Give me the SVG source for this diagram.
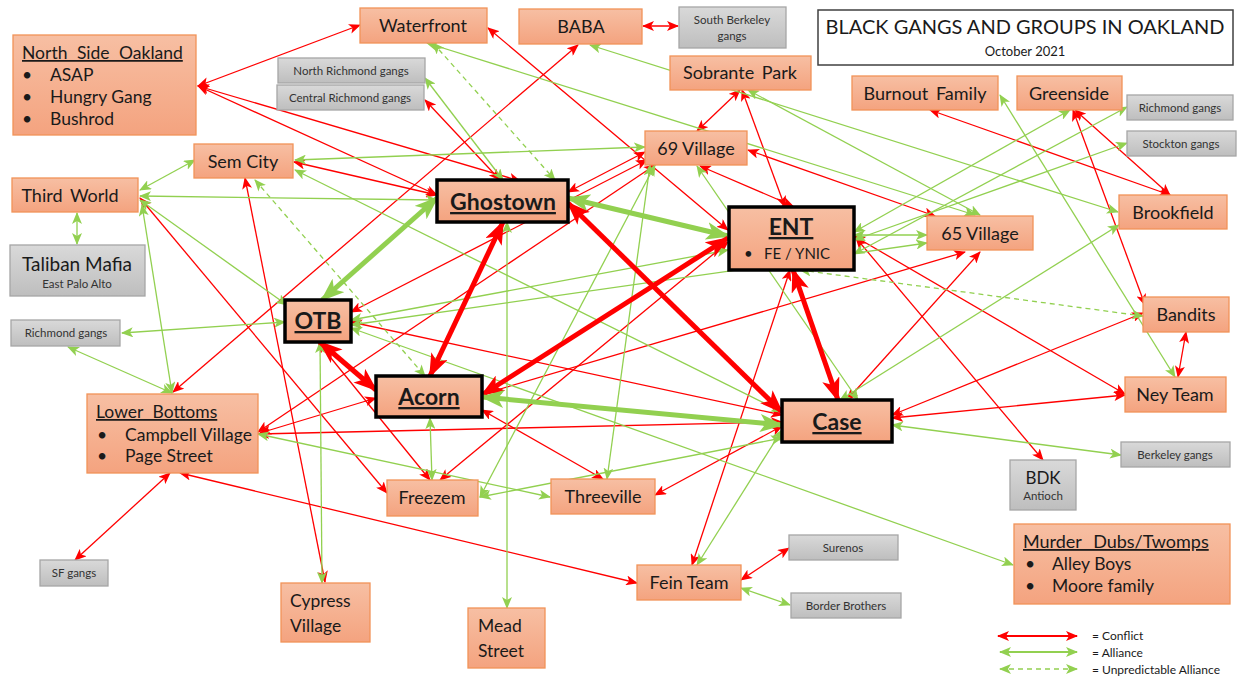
<svg xmlns="http://www.w3.org/2000/svg" width="1239" height="679" viewBox="0 0 1239 679">
<defs>
<linearGradient id="og" x1="0" y1="0" x2="0" y2="1"><stop offset="0" stop-color="#F7BFA3"/><stop offset="1" stop-color="#F4A37F"/></linearGradient>
<linearGradient id="gg" x1="0" y1="0" x2="0" y2="1"><stop offset="0" stop-color="#D9D9D9"/><stop offset="1" stop-color="#BEBEBE"/></linearGradient>
<marker id="ar" markerUnits="userSpaceOnUse" viewBox="0 0 12 10" refX="11" refY="5" markerWidth="12" markerHeight="10" orient="auto-start-reverse"><path d="M0,0 L12,5 L0,10 L3,5 z" fill="#FF0000"/></marker>
<marker id="ag" markerUnits="userSpaceOnUse" viewBox="0 0 12 10" refX="11" refY="5" markerWidth="12" markerHeight="10" orient="auto-start-reverse"><path d="M0,0 L12,5 L0,10 L3,5 z" fill="#92D050"/></marker>
<marker id="aR" markerUnits="userSpaceOnUse" viewBox="0 0 24 18" refX="22" refY="9" markerWidth="24" markerHeight="18" orient="auto-start-reverse"><path d="M0,0 L24,9 L0,18 L6,9 z" fill="#FF0000"/></marker>
<marker id="aG" markerUnits="userSpaceOnUse" viewBox="0 0 24 18" refX="22" refY="9" markerWidth="24" markerHeight="18" orient="auto-start-reverse"><path d="M0,0 L24,9 L0,18 L6,9 z" fill="#92D050"/></marker>
</defs>
<style>
.o{fill:url(#og);stroke:#F19358;stroke-width:1.3}
.k{fill:url(#og);stroke:#000;stroke-width:3.5}
.g{fill:url(#gg);stroke:#A6A6A6;stroke-width:1.3}
text{font-family:Lato,"Liberation Sans",sans-serif;fill:#1a1a1a}
.t{font-size:18px;text-anchor:middle}
.tl{font-size:17.5px}
.s{font-size:11.5px;text-anchor:middle;fill:#333}
.b{font-size:23px;font-weight:bold;text-anchor:middle;text-decoration:underline}
.u{text-decoration:underline;word-spacing:5px}
.r{stroke:#FF0000;stroke-width:1.3;fill:none;marker-start:url(#ar);marker-end:url(#ar)}
.gr{stroke:#92D050;stroke-width:1.3;fill:none;marker-start:url(#ag);marker-end:url(#ag)}
.gd{stroke:#92D050;stroke-width:1.3;fill:none;stroke-dasharray:5 4;marker-start:url(#ag);marker-end:url(#ag)}
.R{stroke:#FF0000;stroke-width:5;fill:none;marker-start:url(#aR);marker-end:url(#aR)}
.G{stroke:#92D050;stroke-width:5;fill:none;marker-start:url(#aG);marker-end:url(#aG)}
</style>
<rect width="1239" height="679" fill="#fff"/>
<g id="connectors">
<line class="r" x1="198" y1="86" x2="360" y2="25"/>
<line class="r" x1="198" y1="86" x2="437" y2="195"/>
<line class="r" x1="198" y1="86" x2="520" y2="181"/>
<line class="r" x1="488" y1="28" x2="728" y2="230"/>
<line class="r" x1="643" y1="26" x2="678" y2="26"/>
<line class="r" x1="578" y1="45" x2="173" y2="392"/>
<line class="r" x1="425" y1="100" x2="500" y2="180"/>
<line class="r" x1="294" y1="162" x2="437" y2="195"/>
<line class="r" x1="245" y1="178" x2="325" y2="582"/>
<line class="r" x1="140" y1="198" x2="387" y2="493"/>
<line class="r" x1="258" y1="432" x2="655" y2="165"/>
<line class="r" x1="258" y1="434" x2="782" y2="422"/>
<line class="r" x1="260" y1="433" x2="376" y2="398"/>
<line class="r" x1="170" y1="473" x2="75" y2="560"/>
<line class="r" x1="180" y1="473" x2="637" y2="583"/>
<line class="r" x1="351" y1="312" x2="647" y2="160"/>
<line class="r" x1="351" y1="322" x2="782" y2="415"/>
<line class="r" x1="740" y1="90" x2="697" y2="131"/>
<line class="r" x1="742" y1="90" x2="785" y2="207"/>
<line class="r" x1="700" y1="166" x2="793" y2="206"/>
<line class="r" x1="748" y1="150" x2="935" y2="216"/>
<line class="r" x1="930" y1="110" x2="1170" y2="195"/>
<line class="r" x1="1075" y1="110" x2="1170" y2="195"/>
<line class="r" x1="1073" y1="110" x2="1145" y2="305"/>
<line class="r" x1="1186" y1="332" x2="1178" y2="377"/>
<line class="r" x1="854" y1="236" x2="1125" y2="394"/>
<line class="r" x1="856" y1="238" x2="1043" y2="460"/>
<line class="r" x1="892" y1="415" x2="1143" y2="313"/>
<line class="r" x1="892" y1="418" x2="1125" y2="395"/>
<line class="r" x1="318" y1="342" x2="430" y2="480"/>
<line class="r" x1="440" y1="480" x2="728" y2="242"/>
<line class="r" x1="482" y1="410" x2="603" y2="479"/>
<line class="r" x1="655" y1="495" x2="782" y2="426"/>
<line class="r" x1="490" y1="392" x2="965" y2="252"/>
<line class="r" x1="847" y1="400" x2="980" y2="252"/>
<line class="r" x1="741" y1="580" x2="789" y2="548"/>
<line class="r" x1="692" y1="565" x2="790" y2="270"/>
<line class="r" x1="568" y1="192" x2="645" y2="152"/>
<line class="gr" x1="425" y1="78" x2="503" y2="180"/>
<line class="gr" x1="140" y1="190" x2="195" y2="160"/>
<line class="gr" x1="140" y1="196" x2="437" y2="200"/>
<line class="gr" x1="77" y1="213" x2="77" y2="244"/>
<line class="gr" x1="142" y1="205" x2="172" y2="393"/>
<line class="gr" x1="140" y1="200" x2="287" y2="305"/>
<line class="gr" x1="122" y1="333" x2="285" y2="322"/>
<line class="gr" x1="68" y1="347" x2="172" y2="393"/>
<line class="gr" x1="258" y1="434" x2="550" y2="497"/>
<line class="gr" x1="320" y1="342" x2="322" y2="583"/>
<line class="gr" x1="295" y1="160" x2="645" y2="147"/>
<line class="gr" x1="295" y1="170" x2="782" y2="412"/>
<line class="gr" x1="430" y1="418" x2="432" y2="480"/>
<line class="gr" x1="507" y1="222" x2="507" y2="608"/>
<line class="gr" x1="741" y1="588" x2="790" y2="605"/>
<line class="gr" x1="351" y1="320" x2="728" y2="250"/>
<line class="gr" x1="351" y1="325" x2="927" y2="243"/>
<line class="gr" x1="351" y1="328" x2="1013" y2="565"/>
<line class="gr" x1="427" y1="43" x2="975" y2="215"/>
<line class="gr" x1="590" y1="45" x2="1118" y2="212"/>
<line class="gr" x1="854" y1="232" x2="1070" y2="110"/>
<line class="gr" x1="854" y1="254" x2="1127" y2="107"/>
<line class="gr" x1="854" y1="240" x2="1127" y2="143"/>
<line class="gr" x1="854" y1="235" x2="927" y2="235"/>
<line class="gr" x1="1000" y1="95" x2="1175" y2="377"/>
<line class="gr" x1="748" y1="90" x2="980" y2="215"/>
<line class="gr" x1="480" y1="497" x2="782" y2="438"/>
<line class="gr" x1="480" y1="497" x2="655" y2="165"/>
<line class="gr" x1="607" y1="479" x2="650" y2="165"/>
<line class="gr" x1="892" y1="425" x2="1121" y2="455"/>
<line class="gr" x1="840" y1="400" x2="1119" y2="225"/>
<line class="gr" x1="697" y1="565" x2="782" y2="430"/>
<line class="gr" x1="697" y1="166" x2="858" y2="400"/>
<line class="gd" x1="433" y1="43" x2="555" y2="180"/>
<line class="gd" x1="255" y1="180" x2="425" y2="376"/>
<line class="gd" x1="800" y1="270" x2="1143" y2="316"/>
<line class="G" x1="437" y1="198" x2="322" y2="300"/>
<line class="G" x1="568" y1="198" x2="728" y2="236"/>
<line class="R" x1="503" y1="222" x2="430" y2="376"/>
<line class="R" x1="568" y1="203" x2="782" y2="412"/>
<line class="R" x1="320" y1="342" x2="376" y2="390"/>
<line class="R" x1="482" y1="395" x2="728" y2="238"/>
<line class="G" x1="482" y1="397" x2="782" y2="425"/>
<line class="R" x1="793" y1="270" x2="838" y2="400"/>
</g>
<g id="title"><rect x="818" y="10" width="415" height="55" fill="#fff" stroke="#404040" stroke-width="1.5"/><text x="1025" y="34" style="font-size:20px;text-anchor:middle">BLACK GANGS AND GROUPS IN OAKLAND</text><text x="1025" y="56" style="font-size:13px;text-anchor:middle">October 2021</text></g>
<g id="nso"><rect class="o" x="13" y="35" width="183" height="100"/><text class="tl u" x="22" y="59">North Side Oakland</text><text class="tl" x="22" y="81">•</text><text class="tl" x="50" y="81">ASAP</text><text class="tl" x="22" y="103">•</text><text class="tl" x="50" y="103">Hungry Gang</text><text class="tl" x="22" y="125">•</text><text class="tl" x="50" y="125">Bushrod</text></g>
<g id="waterfront"><rect class="o" x="360" y="8" width="127" height="35"/><text class="t" x="423" y="32">Waterfront</text></g>
<g id="baba"><rect class="o" x="519" y="9" width="123" height="35"/><text class="t" x="581" y="33">BABA</text></g>
<g id="southberkeley"><rect class="g" x="679" y="7" width="107" height="41"/><text class="s" x="732" y="24">South Berkeley</text><text class="s" x="732" y="40">gangs</text></g>
<g id="northrichmond"><rect class="g" x="278" y="58" width="147" height="25"/><text class="s" x="351" y="75">North Richmond gangs</text></g>
<g id="centralrichmond"><rect class="g" x="277" y="85" width="147" height="25"/><text class="s" x="350" y="102">Central Richmond gangs</text></g>
<g id="sobrante"><rect class="o" x="670" y="56" width="141" height="34"/><text class="t" x="740" y="79" style="word-spacing:3px">Sobrante Park</text></g>
<g id="burnout"><rect class="o" x="852" y="76" width="146" height="34"/><text class="t" x="925" y="100" style="word-spacing:3px">Burnout Family</text></g>
<g id="greenside"><rect class="o" x="1017" y="76" width="105" height="34"/><text class="t" x="1069" y="100">Greenside</text></g>
<g id="richmondR"><rect class="g" x="1127" y="95" width="106" height="25"/><text class="s" x="1180" y="112">Richmond gangs</text></g>
<g id="stockton"><rect class="g" x="1127" y="131" width="109" height="25"/><text class="s" x="1181" y="148">Stockton gangs</text></g>
<g id="v69"><rect class="o" x="645" y="131" width="102" height="34"/><text class="t" x="696" y="155">69 Village</text></g>
<g id="semcity"><rect class="o" x="194" y="144" width="99" height="34"/><text class="t" x="243" y="168">Sem City</text></g>
<g id="thirdworld"><rect class="o" x="12" y="178" width="126" height="34"/><text class="t" x="70" y="202" style="word-spacing:3px">Third World</text></g>
<g id="ghostown"><rect class="k" x="437" y="180" width="131" height="42"/><text class="b" x="503" y="210">Ghostown</text></g>
<g id="ent"><rect class="k" x="729" y="207" width="125" height="63"/><text class="b" x="791" y="235">ENT</text><text x="744" y="259" style="font-size:15px">•</text><text x="764" y="259" style="font-size:15px">FE / YNIC</text></g>
<g id="v65"><rect class="o" x="927" y="216" width="106" height="34"/><text class="t" x="980" y="240">65 Village</text></g>
<g id="brookfield"><rect class="o" x="1119" y="195" width="108" height="34"/><text class="t" x="1173" y="219">Brookfield</text></g>
<g id="taliban"><rect class="g" x="10" y="245" width="135" height="51"/><text x="77" y="271" style="font-size:19px;text-anchor:middle">Taliban Mafia</text><text class="s" x="77" y="288">East Palo Alto</text></g>
<g id="richmondL"><rect class="g" x="11" y="320" width="109" height="26"/><text class="s" x="66" y="337">Richmond gangs</text></g>
<g id="otb"><rect class="k" x="285" y="300" width="66" height="42"/><text class="b" x="318" y="329">OTB</text></g>
<g id="bandits"><rect class="o" x="1143" y="297" width="86" height="35"/><text class="t" x="1186" y="321">Bandits</text></g>
<g id="lowerbottoms"><rect class="o" x="87" y="394" width="171" height="79"/><text class="tl u" x="96" y="418">Lower Bottoms</text><text class="tl" x="97" y="441">•</text><text class="tl" x="125" y="441">Campbell Village</text><text class="tl" x="97" y="462">•</text><text class="tl" x="125" y="462">Page Street</text></g>
<g id="acorn"><rect class="k" x="376" y="376" width="106" height="41"/><text class="b" x="429" y="405">Acorn</text></g>
<g id="case"><rect class="k" x="782" y="400" width="110" height="42"/><text class="b" x="837" y="430">Case</text></g>
<g id="neyteam"><rect class="o" x="1125" y="377" width="101" height="35"/><text class="t" x="1175" y="401">Ney Team</text></g>
<g id="berkeley"><rect class="g" x="1121" y="442" width="109" height="25"/><text class="s" x="1175" y="459">Berkeley gangs</text></g>
<g id="bdk"><rect class="g" x="1010" y="460" width="66" height="50"/><text x="1043" y="484" style="font-size:17px;text-anchor:middle">BDK</text><text class="s" x="1043" y="500">Antioch</text></g>
<g id="freezem"><rect class="o" x="387" y="480" width="91" height="36"/><text class="t" x="432" y="504">Freezem</text></g>
<g id="threeville"><rect class="o" x="551" y="479" width="104" height="35"/><text class="t" x="603" y="503">Threeville</text></g>
<g id="murderdubs"><rect class="o" x="1014" y="524" width="216" height="80"/><text class="tl u" x="1023" y="548" style="font-size:18px;word-spacing:7px">Murder Dubs/Twomps</text><text class="tl" x="1025" y="570">•</text><text class="tl" x="1052" y="570">Alley Boys</text><text class="tl" x="1025" y="592">•</text><text class="tl" x="1052" y="592">Moore family</text></g>
<g id="sfgangs"><rect class="g" x="40" y="560" width="68" height="26"/><text class="s" x="74" y="577">SF gangs</text></g>
<g id="cypress"><rect class="o" x="281" y="583" width="89" height="59"/><text class="tl" x="290" y="607">Cypress</text><text class="tl" x="290" y="632">Village</text></g>
<g id="fein"><rect class="o" x="637" y="565" width="104" height="35"/><text class="t" x="689" y="589">Fein Team</text></g>
<g id="surenos"><rect class="g" x="789" y="535" width="109" height="25"/><text class="s" x="843" y="552">Surenos</text></g>
<g id="borderbrothers"><rect class="g" x="791" y="593" width="110" height="25"/><text class="s" x="846" y="610">Border Brothers</text></g>
<g id="mead"><rect class="o" x="468" y="608" width="77" height="60"/><text class="tl" x="478" y="632">Mead</text><text class="tl" x="478" y="657">Street</text></g>
<g id="legend">
<line class="r" x1="998" y1="636" x2="1077" y2="636" style="stroke-width:1.8"/>
<line class="gr" x1="1000" y1="652" x2="1077" y2="652" style="stroke-width:1.8"/>
<line class="gd" x1="1000" y1="669" x2="1077" y2="669"/>
<text x="1092" y="640" style="font-size:12px">= Conflict</text>
<text x="1092" y="657" style="font-size:12px">= Alliance</text>
<text x="1092" y="674" style="font-size:12px">= Unpredictable Alliance</text>
</g>
</svg>
